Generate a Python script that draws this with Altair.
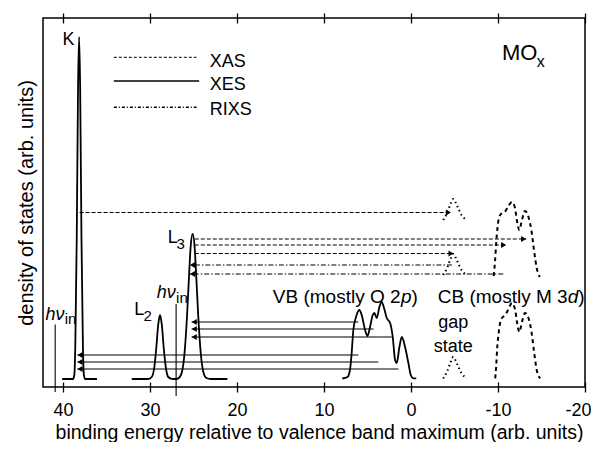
import altair as alt
import pandas as pd

FONT = "Liberation Sans"

# ---------------- axis ticks ----------------
tick_values = [40, 30, 20, 10, 0, -10, -20]

# ---------------- solid spectra (core levels + valence band) ----------------
k_x = [40.1, 38.85, 38.7, 38.59, 38.42, 38.27, 38.15, 38.03, 37.88, 37.71, 37.6, 37.45, 36.1]
k_y = [8, 8, 12, 40, 150, 300, 350, 300, 150, 40, 12, 8, 8]

l_x = [32.1, 30.2, 29.8, 29.5, 29.27, 29.06, 28.85, 28.64, 28.43, 28.19, 27.9, 27.5, 27.0,
       26.68, 26.33, 26.02, 25.75, 25.49, 25.33, 25.1, 24.87, 24.71, 24.45, 24.18, 23.87,
       23.52, 23.0, 21.1]
l_y = [8, 8, 10, 20, 40, 62, 72, 62, 40, 20, 10, 8.2, 8,
       9, 15, 35, 70, 115, 140, 153, 140, 115, 70, 35, 15,
       9, 8, 8]

vb_x = [7.9, 7.3, 7.0, 6.82, 6.63, 6.32, 5.94, 5.67, 5.28, 5.01, 4.71, 4.4, 4.21, 3.94,
        3.63, 3.37, 3.1, 2.79, 2.4, 2.1, 1.83, 1.64, 1.33, 1.06, 0.68, 0.3, 0.03, -0.28, -0.6]
vb_y = [8.5, 10, 18, 34, 57, 70, 77, 72, 57, 51, 60, 72, 74, 69,
        80, 85, 79, 69, 64, 50, 27, 24, 40, 50, 40, 24, 12, 8.7, 8.7]

# ---------------- unoccupied states (XAS) ----------------
cb_low_x = [-9.68, -9.8, -9.9, -10.05, -10.2, -10.45, -10.85, -11.2, -11.6, -11.95, -12.2,
            -12.45, -12.75, -13.1, -13.5, -13.85, -14.15, -14.45, -14.85]
cb_low_y = [8.7, 22, 38, 52, 62, 69, 72, 78, 84, 78, 64, 55, 65, 74, 69, 55, 35, 17, 8.7]

cb_up_x = [-9.5, -9.65, -9.8, -9.95, -10.15, -10.45, -10.85, -11.2, -11.6, -11.95, -12.2,
           -12.45, -12.75, -13.1, -13.5, -13.85, -14.15, -14.45, -14.8]
cb_up_y = [111, 125, 145, 160, 170, 174, 176, 181, 185, 179, 165, 157, 167, 176, 170, 156,
           136, 119, 110]

gap_x = [-3.7, -4.15, -4.5, -4.85, -5.3, -5.8, -6.4]
gap_low_y = [8.5, 15.5, 23.5, 30, 23, 14, 8.5]
gap_mid_y = [112, 119, 127, 133, 126, 117, 112]
gap_top_y = [167, 174, 182, 188, 181, 172, 167]

# ---------------- excitation energies ----------------
hv_x = [40.9, 27.0]
hv_top = [62.5, 83]
hv_bottom = [-5, -9]

# ---------------- transitions ----------------
xes_from = [6.05, 3.75, 1.45, 6.05, 4.3, 2.2]
xes_to = [38.35, 38.35, 38.35, 25.22, 25.22, 25.22]
xes_y = [32, 25, 18, 65, 58, 50]

xas_from = [38.1, 24.85, 24.85, 24.85]
xas_to = [-4.6, -13.25, -10.95, -4.9]
xas_y = [174.5, 148, 142, 133.5]

rixs_from = [-4.7, -10.6]
rixs_to = [25.42, 25.42]
rixs_y = [122, 113]

# ---------------- legend ----------------
legend_names = ["XAS", "XES", "RIXS"]
legend_x1 = [34.16, 34.16, 34.16]
legend_x2 = [24.65, 24.35, 24.65]
legend_line_y = [329.7, 306, 279.7]
legend_text_x = 23.12
legend_text_y = [320.5, 297, 272]

# ---------------- annotations ----------------
reg_text = ["K", "L", "L"]
reg_x = [40.05, 31.8, 27.96]
reg_y = [342, 72, 143.7]

band_text = ["VB (mostly O 2", ")", "CB (mostly M 3", ")"]
band_x = [1.2, -0.07, -18.0, -19.95]
band_y = [84, 84, 84, 84]
band_align = ["right", "left", "right", "right"]

ital_text = ["hν", "hν"]
ital_x = [42.0, 29.23]
ital_y = [67, 88.7]

band_ital_text = ["p", "d"]
band_ital_x = [1.15, -19.22]
band_ital_y = [84, 84]
band_ital_align = ["left", "right"]

sub_text = ["in", "in", "2", "3"]
sub_x = [39.8, 27.0, 30.75, 26.95]
sub_y = [63.5, 84, 66.5, 138.5]

center_text = ["gap", "state"]
center_x = [-4.85, -4.85]
center_y = [58.7, 35.3]

mo_text = ["MO"]
mo_x = [-10.45]
mo_y = [327]
mo_sub = ["x"]
mo_sub_x = [-14.45]
mo_sub_y = [320.5]

# ---------------- build tables ----------------
def curve_df(name, xs_, ys_):
    return pd.DataFrame({"x": xs_, "y": ys_, "curve": name, "i": list(range(len(xs_)))})

solid_df = pd.concat([curve_df("K", k_x, k_y), curve_df("L", l_x, l_y),
                      curve_df("VB", vb_x, vb_y)])
cb_df = pd.concat([curve_df("cb_low", cb_low_x, cb_low_y), curve_df("cb_up", cb_up_x, cb_up_y)])
gap_df = pd.concat([curve_df("g_low", gap_x, gap_low_y), curve_df("g_mid", gap_x, gap_mid_y),
                    curve_df("g_top", gap_x, gap_top_y)])

hv_df = pd.DataFrame({"x": hv_x, "y": hv_bottom, "y2": hv_top})
xes_df = pd.DataFrame({"x": xes_from, "x2": xes_to, "y": xes_y})
xas_df = pd.DataFrame({"x": xas_from, "x2": xas_to, "y": xas_y})
rixs_df = pd.DataFrame({"x": rixs_from, "x2": rixs_to, "y": rixs_y})

head_off = 0.3
head_left_df = pd.DataFrame({"x": [t - head_off for t in xes_to + rixs_to], "y": xes_y + rixs_y})
head_right_df = pd.DataFrame({"x": [t + head_off for t in xas_to], "y": xas_y})

leg_df = pd.DataFrame({"name": legend_names, "x": legend_x1, "x2": legend_x2, "y": legend_line_y})
leg_txt_df = pd.DataFrame({"label": legend_names, "x": [legend_text_x] * 3, "y": legend_text_y})

reg_df = pd.DataFrame({"label": reg_text, "x": reg_x, "y": reg_y})
band_df = pd.DataFrame({"label": band_text, "x": band_x, "y": band_y, "al": band_align})
ital_df = pd.DataFrame({"label": ital_text, "x": ital_x, "y": ital_y})
band_ital_df = pd.DataFrame({"label": band_ital_text, "x": band_ital_x, "y": band_ital_y,
                             "al": band_ital_align})
sub_df = pd.DataFrame({"label": sub_text, "x": sub_x, "y": sub_y})
cen_df = pd.DataFrame({"label": center_text, "x": center_x, "y": center_y})
mo_df = pd.DataFrame({"label": mo_text, "x": mo_x, "y": mo_y})
mo_sub_df = pd.DataFrame({"label": mo_sub, "x": mo_sub_x, "y": mo_sub_y})
tick_df = pd.DataFrame({"x": tick_values, "y": [0] * len(tick_values)})

# ---------------- scales / axes ----------------
xsc = alt.Scale(domain=[-20, 42.3], reverse=True, nice=False, zero=False)
ysc = alt.Scale(domain=[0, 369], nice=False, zero=False)
yaxis = alt.Axis(title="density of states (arb. units)", labels=False, ticks=False,
                 domain=False, grid=False, titleFont=FONT, titleFontSize=20,
                 titleFontWeight="normal", titleColor="black", titlePadding=7)

bottom_axis = alt.Axis(orient="bottom", values=tick_values, tickSize=10, offset=-5,
                       domain=False, grid=False, tickColor="black", tickWidth=1.3,
                       labelFont=FONT, labelFontSize=18, labelColor="black", labelPadding=9,
                       labelExpr="'' + datum.value", labelFlush=3, labelFlushOffset=6,
                       labelOverlap=False,
                       title="binding energy relative to valence band maximum (arb. units)",
                       titleFont=FONT, titleFontSize=19.5, titleFontWeight="normal",
                       titleColor="black", titlePadding=4, titleX=276)
top_axis = alt.Axis(orient="top", values=tick_values, tickSize=10, offset=-5, labels=False,
                    domain=False, grid=False, tickColor="black", tickWidth=1.3, title=None)


def X(field="x", axis=None):
    return alt.X(f"{field}:Q", scale=xsc, axis=axis)


def Y(field="y"):
    return alt.Y(f"{field}:Q", scale=ysc, axis=yaxis)


def text_layer(df, size, align="left", style="normal", filt=None):
    base = alt.Chart(df)
    if filt is not None:
        base = base.transform_filter(filt)
    return base.mark_text(font=FONT, fontSize=size, align=align, fontStyle=style,
                          baseline="alphabetic", color="black").encode(
        x=X(), y=Y(), text="label:N")


solid = alt.Chart(solid_df).mark_line(color="black", strokeWidth=1.8, interpolate="monotone").encode(
    x=X(axis=bottom_axis), y=Y(), detail="curve:N", order="i:Q")

ticks_top = alt.Chart(tick_df).mark_point(opacity=0).encode(x=X(axis=top_axis), y=Y())

cb = alt.Chart(cb_df).mark_line(color="black", strokeWidth=2, strokeDash=[4, 3.5],
                                interpolate="monotone").encode(
    x=X(), y=Y(), detail="curve:N", order="i:Q")
gap = alt.Chart(gap_df).mark_line(color="black", strokeWidth=2, strokeDash=[1.5, 3],
                                  interpolate="monotone").encode(
    x=X(), y=Y(), detail="curve:N", order="i:Q")

hv = alt.Chart(hv_df).mark_rule(color="black", strokeWidth=1.1).encode(
    x=X(), y=Y(), y2=alt.Y2("y2:Q"))

xes = alt.Chart(xes_df).mark_rule(color="black", strokeWidth=1.1).encode(
    x=X(), x2=alt.X2("x2:Q"), y=Y())
xas = alt.Chart(xas_df).mark_rule(color="black", strokeWidth=1.2, strokeDash=[4, 2]).encode(
    x=X(), x2=alt.X2("x2:Q"), y=Y())
rixs = alt.Chart(rixs_df).mark_rule(color="black", strokeWidth=1.1, strokeDash=[5, 2, 1.5, 2]).encode(
    x=X(), x2=alt.X2("x2:Q"), y=Y())

head_l = alt.Chart(head_left_df).mark_point(shape="triangle-left", filled=True, size=34,
                                             color="black", opacity=1).encode(x=X(), y=Y())
head_r = alt.Chart(head_right_df).mark_point(shape="triangle-right", filled=True, size=34,
                                              color="black", opacity=1).encode(x=X(), y=Y())

leg_lines = alt.Chart(leg_df).mark_rule(color="black").encode(
    x=X(), x2=alt.X2("x2:Q"), y=Y(),
    strokeDash=alt.StrokeDash("name:N", scale=alt.Scale(domain=legend_names,
                                                        range=[[3, 2], [1, 0], [3, 2, 1, 2]]),
                              legend=None),
    strokeWidth=alt.StrokeWidth("name:N", scale=alt.Scale(domain=legend_names,
                                                          range=[1.0, 1.6, 1.0]), legend=None))
leg_txt = text_layer(leg_txt_df, 18)

reg = text_layer(reg_df, 18)
band_l = text_layer(band_df, 19, "left", filt="datum.al == 'left'")
band_r = text_layer(band_df, 19, "right", filt="datum.al == 'right'")
ital = text_layer(ital_df, 18, style="italic")
band_il = text_layer(band_ital_df, 19, "left", "italic", filt="datum.al == 'left'")
band_ir = text_layer(band_ital_df, 19, "right", "italic", filt="datum.al == 'right'")
subs = text_layer(sub_df, 15)
cen = text_layer(cen_df, 18, "center")
mo = text_layer(mo_df, 22)
mo_s = text_layer(mo_sub_df, 16)

chart = alt.layer(
    solid, ticks_top, cb, gap, hv, xes, xas, rixs, head_l, head_r,
    leg_lines, leg_txt, reg, band_l, band_r, ital, band_il, band_ir, subs, cen, mo, mo_s
).resolve_axis(x="independent").resolve_scale(strokeDash="independent", strokeWidth="independent").properties(
    width=542, height=369,
    padding={"left": 35, "top": 10, "right": 6, "bottom": 55},
    autosize=alt.AutoSizeParams(type="none"),
).configure_view(stroke="black", strokeWidth=1.5)

chart.save("out.html", embed_options={"renderer": "svg", "actions": False})
